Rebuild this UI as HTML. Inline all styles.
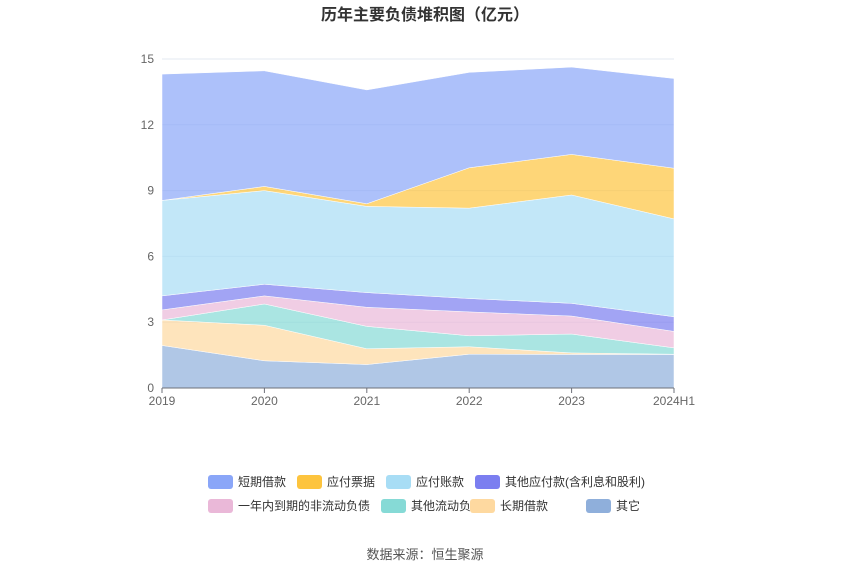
<!DOCTYPE html>
<html><head><meta charset="utf-8"><style>
body{margin:0;background:#fff;font-family:"Liberation Sans","Noto Sans CJK SC",sans-serif}
svg text{font-family:"Liberation Sans","Noto Sans CJK SC",sans-serif}
</style></head><body>
<svg id="c" width="850" height="575">
<text x="425" y="20" text-anchor="middle" font-size="16" font-weight="bold" fill="#333">历年主要负债堆积图（亿元）</text>
<g id="grid"></g><g id="areas"></g><g id="axes"></g><g id="legend"></g>
<text x="425" y="559" text-anchor="middle" font-size="13" fill="#555">数据来源：恒生聚源</text>
</svg>
<script>
const categories=["2019","2020","2021","2022","2023","2024H1"];
const seriesNames=["其它","长期借款","其他流动负债","一年内到期的非流动负债","其他应付款(含利息和股利)","应付账款","应付票据","短期借款"];
const other=[1.94,1.24,1.07,1.54,1.53,1.53];
const longLoan=[1.16,1.62,0.72,0.34,0.07,0.01];
const otherCurrent=[0.00,0.97,1.02,0.50,0.86,0.29];
const dueWithinYear=[0.46,0.37,0.87,1.09,0.82,0.75];
const otherPayable=[0.64,0.53,0.67,0.61,0.58,0.67];
const accountsPayable=[4.35,4.27,3.93,4.12,4.94,4.46];
const notesPayable=[0.00,0.19,0.12,1.84,1.85,2.31];
const shortLoan=[5.76,5.27,5.19,4.35,3.98,4.09];
const yTicks=[0,3,6,9,12,15];
const series=[other,longLoan,otherCurrent,dueWithinYear,otherPayable,accountsPayable,notesPayable,shortLoan];
const colors=["#8fafdb","#fed9a0","#86dad6","#eab8d8","#7b7ef0","#a8ddf5","#fdc43e","#8aa6f8"];
const names=["other","long-term-loan","other-current-liab","due-within-year","other-payable","accounts-payable","notes-payable","short-term-loan"];
const NS="http://www.w3.org/2000/svg";
const X0=162,X1=674,Y0=388,Y1=59,YMAX=15;
const xs=i=>X0+(X1-X0)*i/(categories.length-1);
const ys=v=>Y0-(Y0-Y1)*v/YMAX;
function mk(t,a,p){const e=document.createElementNS(NS,t);for(const k in a)e.setAttribute(k,a[k]);p.appendChild(e);return e;}
const grid=document.getElementById('grid'),axes=document.getElementById('axes'),areas=document.getElementById('areas'),leg=document.getElementById('legend');
yTicks.forEach(v=>{
 const l=mk('line',{x1:X0,x2:X1,y1:ys(v),y2:ys(v),stroke:'#e3e8f0'},grid);
 
 
 const t=mk('text',{x:X0-8,y:ys(v)+4,'text-anchor':'end','font-size':12,fill:'#666'},axes);
 t.textContent=v;
 
 
});
let base=categories.map(()=>0);
series.forEach((s,k)=>{
 const top=base.map((b,i)=>b+s[i]);
 let d='M'+top.map((v,i)=>xs(i)+','+ys(v)).join('L');
 for(let i=base.length-1;i>=0;i--)d+='L'+xs(i)+','+ys(base[i]);
 const p=mk('path',{d:d+'Z',fill:colors[k],'fill-opacity':0.7,stroke:'#fff','stroke-width':0.5},areas);
 
 
 base=top;
});
const ax=mk('line',{x1:X0,x2:X1,y1:Y0,y2:Y0,stroke:'#6e7079'},axes);


categories.forEach((c,i)=>{
 mk('line',{x1:xs(i),x2:xs(i),y1:Y0,y2:Y0+5,stroke:'#6e7079'},axes);
 const t=mk('text',{x:xs(i),y:Y0+17,'text-anchor':'middle','font-size':12,fill:'#666'},axes);
 t.textContent=c;
 
 
});
const legOrder=[7,6,5,4,3,2,1,0];
const legPos=[[208,482],[297,482],[386,482],[475,482],[208,506],[381,506],[470,506],[586,506]];
legOrder.forEach((k,j)=>{
 const [x,y]=legPos[j];
 const g=mk('g',{},leg);
 
 
 mk('rect',{x:x,y:y-7,width:25,height:14,rx:3,fill:colors[k]},g);
 const t=mk('text',{x:x+30,y:y+4,'font-size':12,fill:'#333'},g);
 t.textContent=seriesNames[k];
});
</script>
</body></html>
